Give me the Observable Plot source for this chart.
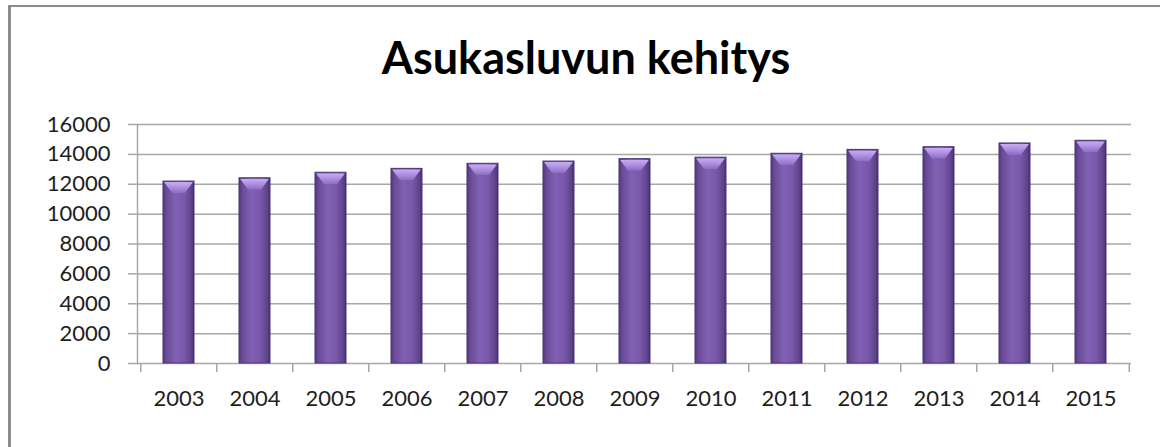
<!DOCTYPE html>
<html>
<head>
<meta charset="utf-8">
<script src="https://cdn.jsdelivr.net/npm/d3@7"></script>
<script src="https://cdn.jsdelivr.net/npm/@observablehq/plot@0.6"></script>
<style>
  html, body { margin: 0; padding: 0; background: #fff; overflow: hidden; }
  #wrap { position: relative; width: 1160px; height: 447px; overflow: hidden; background: #fff; font-family: Lato, "Open Sans", sans-serif; }
  #frame { position: absolute; left: 8px; top: 5px; width: 1300px; height: 600px; border-left: 3px solid #8c8c8c; border-top: 2px solid #8c8c8c; box-sizing: border-box; pointer-events: none; }
  #title { box-sizing: border-box; height: 110px; padding-top: 35px; padding-left: 12px; line-height: 45px; font-size: 45px; font-weight: 700; text-align: center; color: #000; }
  svg { display: block; }
</style>
</head>
<body>
<div id="wrap">
  <div id="frame"></div>
  <div id="title"></div>
  <div id="chart"></div>
</div>
<script>
const title = "Asukasluvun kehitys";
const years = ["2003", "2004", "2005", "2006", "2007", "2008", "2009", "2010", "2011", "2012", "2013", "2014", "2015"];
const population = [12180, 12400, 12770, 13030, 13370, 13520, 13680, 13780, 14040, 14300, 14480, 14730, 14910];
const yTicks = [0, 2000, 4000, 6000, 8000, 10000, 12000, 14000, 16000];

const data = years.map((year, i) => ({year, population: population[i]}));

document.getElementById("title").textContent = title;

const W = 1160, H = 337, ML = 137, MR = 29, MT = 14, MB = 84;
const half = (W - ML - MR) / years.length / 2;
const gridColor = "#a8a8a8";
const textColor = "#1e1e1e";

const chart = Plot.plot({
  width: W, height: H,
  marginTop: MT, marginBottom: MB, marginLeft: ML, marginRight: MR,
  style: {fontFamily: "Lato, 'Open Sans', sans-serif", background: "transparent", color: textColor},
  x: {type: "band", domain: years, paddingInner: 0.595, paddingOuter: 0.2975, axis: null, label: null},
  y: {domain: [0, 16000], axis: null, label: null},
  marks: [
    Plot.gridY(yTicks, {stroke: gridColor, strokeOpacity: 1, strokeWidth: 1.5}),
    Plot.frame({anchor: "left", stroke: gridColor, strokeWidth: 1.5}),
    Plot.axisY({ticks: yTicks, label: null, tickSize: 9, tickPadding: 18, tickFormat: "d", fontSize: 22, stroke: gridColor, strokeWidth: 1.5, fill: textColor}),
    Plot.axisX({ticks: years, label: null, tickSize: 9, tickFormat: () => "", dx: -half, stroke: gridColor, strokeWidth: 1.5}),
    Plot.axisX({ticks: [years[years.length - 1]], label: null, tickSize: 9, tickFormat: () => "", dx: half, stroke: gridColor, strokeWidth: 1.5}),
    Plot.axisX({ticks: years, label: null, tickSize: 0, tickPadding: 27, fontSize: 22, fill: textColor}),
    Plot.barY(data, {x: "year", y: "population", fill: "url(#barBody)", stroke: "#4a3372", strokeWidth: 1}),
    Plot.barY(data, {x: "year", y1: "population", y2: "population", insetTop: 1, insetBottom: -12, insetLeft: 1, insetRight: 1, fill: "url(#capGrad)"})
  ]
});

const svg = d3.select(chart);
const defs = svg.insert("defs", ":first-child");
const body = defs.append("linearGradient").attr("id", "barBody").attr("x1", 0).attr("x2", 1).attr("y1", 0).attr("y2", 0);
[["0%", "#533a7c"], ["12%", "#6a4c99"], ["40%", "#8060b2"], ["70%", "#7858a9"], ["90%", "#60448c"], ["100%", "#48316e"]]
  .forEach(([o, c]) => body.append("stop").attr("offset", o).attr("stop-color", c));
const cap = defs.append("linearGradient").attr("id", "capGrad").attr("x1", 0).attr("x2", 0).attr("y1", 0).attr("y2", 1);
[["0%", "#c9adf3"], ["55%", "#a98ade"], ["100%", "#8a6bc0"]]
  .forEach(([o, c]) => cap.append("stop").attr("offset", o).attr("stop-color", c));
defs.append("clipPath").attr("id", "capClip").attr("clipPathUnits", "objectBoundingBox")
  .append("polygon").attr("points", "0,0 1,0 0.72,1 0.28,1");
svg.selectAll("rect").filter(function() {
  return (this.getAttribute("fill") || "").includes("capGrad") ||
         ((this.parentNode && this.parentNode.getAttribute && this.parentNode.getAttribute("fill")) || "").includes("capGrad");
}).attr("clip-path", "url(#capClip)");

document.getElementById("chart").appendChild(chart);
</script>
</body>
</html>
